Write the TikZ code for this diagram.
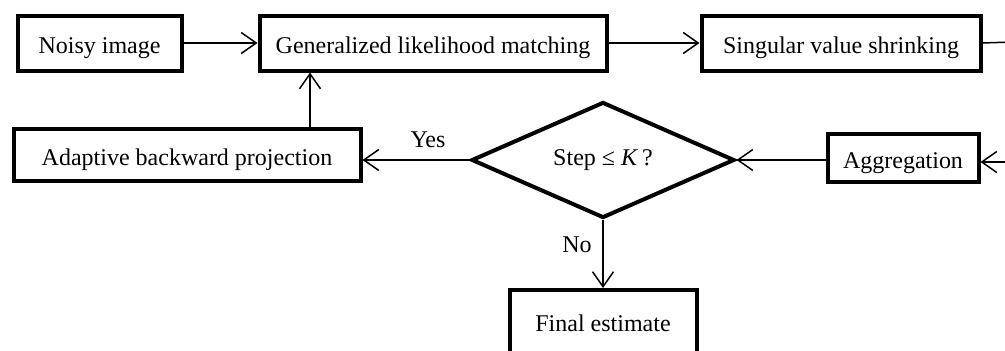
\documentclass[tikz,border=0pt]{standalone}
\usepackage{fontspec}
\setmainfont{Liberation Serif}
\usetikzlibrary{arrows.meta,shapes.geometric}
\begin{document}
\begin{tikzpicture}[x=1pt,y=1pt,
  box/.style={draw,line width=4pt,rectangle,inner sep=0pt,text height=20pt,text depth=0pt,font=\fontsize{24}{28}\selectfont},
  dia/.style={draw,line width=4pt,diamond,aspect=2.25,inner sep=0pt,font=\fontsize{24}{28}\selectfont},
  arr/.style={line width=1.5pt,-{Straight Barb[length=15pt,width=21pt,line width=1.5pt]}},
  lbl/.style={font=\fontsize{24}{28}\selectfont,inner sep=0pt}]
\useasboundingbox (0,0) rectangle (1005,-351);
\node[box,minimum width=164pt,minimum height=55pt] (noisy) at (99.5,-43) {Noisy image};
\node[box,minimum width=347pt,minimum height=55pt] (glm) at (433,-43) {Generalized likelihood matching};
\node[box,minimum width=279pt,minimum height=55pt] (svs) at (841,-43) {Singular value shrinking};
\node[box,minimum width=151pt,minimum height=48pt] (agg) at (903,-158) {Aggregation};
\node[dia,minimum width=263pt,minimum height=116pt] (dec) at (603,-160) {Step ≤ \textit{K}\,?};
\node[box,minimum width=347pt,minimum height=52pt] (abp) at (187,-155) {Adaptive backward projection};
\node[box,minimum width=187pt,minimum height=70pt] (fin) at (603,-325) {};
\node[lbl] (fintxt) at (603,-323) {Final estimate};
\coordinate (outR) at (1012,-42);
\coordinate (inR) at (1012,-162);
\coordinate (upx) at (310,0);
\draw[arr] (noisy.east) -- (glm.west);
\draw[arr] (glm.east) -- (svs.west);
\draw[line width=1.5pt] (svs.east) -- (outR);
\draw[arr] (inR) -- (agg.east |- inR);
\draw[arr] (agg.west |- dec.east) -- (dec.east);
\draw[arr] (dec.west) -- (abp.east |- dec.west);
\draw[arr] (abp.north -| upx) -- (glm.south -| upx);
\draw[arr] (dec.south) -- (fin.north);
\node[lbl] (yes) at (428,-140) {Yes};
\node[lbl] (no) at (577,-245) {No};
\end{tikzpicture}
\end{document}
